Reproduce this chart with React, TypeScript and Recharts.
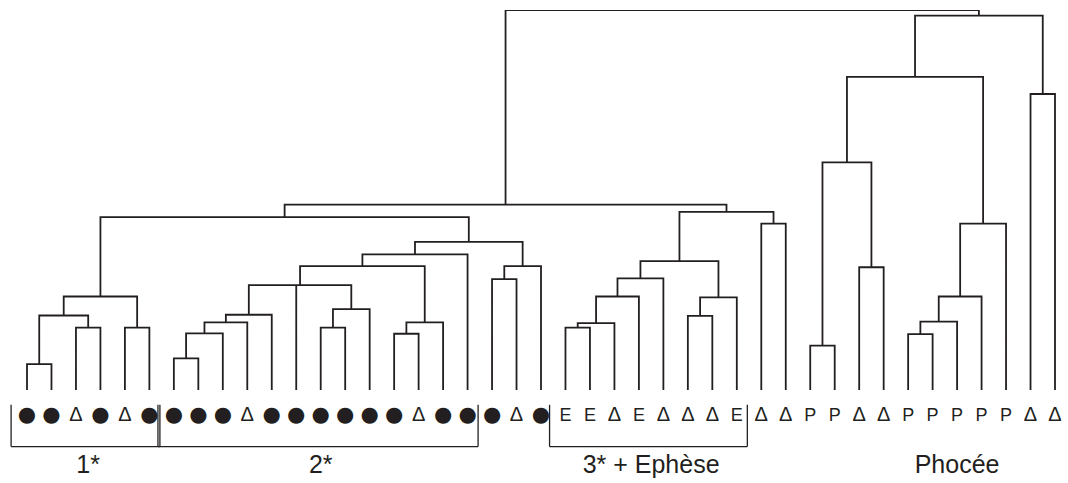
import React from 'react';
import { LineChart, Line, XAxis, YAxis, ReferenceLine, ReferenceDot } from 'recharts';

// Leaf symbols, left to right (43 specimens)
const leafSymbols: string[] = [
  '●', '●', 'Δ', '●', 'Δ', '●',
  '●', '●', '●', 'Δ', '●', '●', '●', '●', '●', '●', 'Δ', '●', '●',
  '●', 'Δ', '●',
  'E', 'E', 'Δ', 'E', 'Δ', 'Δ', 'Δ', 'E',
  'Δ', 'Δ',
  'P', 'P', 'Δ', 'Δ', 'P', 'P', 'P', 'P', 'P', 'Δ', 'Δ',
];

// Cluster merges: [name, children (leaf index or merge name), linkage distance]
const merges: [string, (string | number)[], number][] = [
  ['A1', [0, 1], 6.8],
  ['A2', [2, 3], 16.4],
  ['A3', ['A1', 'A2'], 19.6],
  ['A4', [4, 5], 16.4],
  ['A5', ['A3', 'A4'], 24.6],
  ['B1', [6, 7], 8.3],
  ['B2', ['B1', 8], 14.9],
  ['B3', ['B2', 9], 17.8],
  ['B4', ['B3', 10], 19.8],
  ['K1', [12, 13], 16.4],
  ['K2', ['K1', 14], 21.3],
  ['B5', ['B4', 11, 'K2'], 27.6],
  ['L1', [15, 16], 14.8],
  ['L2', ['L1', 17], 17.8],
  ['B6', ['B5', 'L2'], 32.6],
  ['B7', ['B6', 18], 35.7],
  ['M1', [19, 20], 29.2],
  ['M2', ['M1', 21], 32.6],
  ['C', ['B7', 'M2'], 39.0],
  ['D', ['A5', 'C'], 45.5],
  ['N1', [22, 23], 16.4],
  ['N2', ['N1', 24], 17.6],
  ['N3', ['N2', 25], 24.6],
  ['N4', ['N3', 26], 29.4],
  ['O1', [27, 28], 19.5],
  ['O2', ['O1', 29], 24.4],
  ['G', ['N4', 'O2'], 33.9],
  ['P1', [30, 31], 43.8],
  ['F', ['G', 'P1'], 46.9],
  ['E', ['D', 'F'], 48.8],
  ['Q1', [32, 33], 11.7],
  ['Q2', [34, 35], 32.3],
  ['H', ['Q1', 'Q2'], 59.9],
  ['R1', [36, 37], 14.7],
  ['R2', ['R1', 38], 18.0],
  ['R3', ['R2', 39], 24.6],
  ['R4', ['R3', 40], 43.8],
  ['I', ['H', 'R4'], 82.4],
  ['S1', [41, 42], 77.9],
  ['J', ['I', 'S1'], 98.5],
  ['Root', ['E', 'J'], 100],
];

// Groups shown below the leaves
const groupNames: string[] = ['1*', '2*', '3* + Ephèse', 'Phocée'];
const groupFirst: number[] = [0, 6, 22, 34];
const groupLast: number[] = [5, 18, 29, 42];
const groupBracket: boolean[] = [true, true, true, false];

const leafTicks = leafSymbols.map((_, i) => i);

type Pt = { x: number; y: number | null };

function buildSegments(): Pt[] {
  const info = new Map<string, { x: number; h: number }>();
  const get = (c: string | number) =>
    typeof c === 'number' ? { x: c, h: 0 } : (info.get(c) as { x: number; h: number });
  const pts: Pt[] = [];
  for (const [name, kids, h] of merges) {
    const cs = kids.map(get).sort((a, b) => a.x - b.x);
    const l = cs[0];
    const r = cs[cs.length - 1];
    pts.push({ x: l.x, y: l.h }, { x: l.x, y: h }, { x: r.x, y: h }, { x: r.x, y: r.h }, { x: r.x, y: null });
    for (const m of cs.slice(1, -1)) {
      pts.push({ x: m.x, y: m.h }, { x: m.x, y: h }, { x: m.x, y: null });
    }
    info.set(name, { x: (l.x + r.x) / 2, h });
  }
  return pts;
}

const segments = buildSegments();

const INK = '#231f20';
const FONT = '"Liberation Sans", Arial, Helvetica, sans-serif';

const LeafTick = (props: any) => {
  const { x, y, payload } = props;
  const s = leafSymbols[payload.value];
  if (s === '●') {
    return (
      <text x={x} y={y + 31} textAnchor="middle" fontSize={21} fontFamily='"DejaVu Sans", sans-serif' fill={INK}>
        ●
      </text>
    );
  }
  if (s === 'Δ') {
    return (
      <text x={x} y={y + 31} textAnchor="middle" fontSize={20} fontFamily={FONT} fill={INK}>
        Δ
      </text>
    );
  }
  return (
    <text x={x} y={y + 31} textAnchor="middle" fontSize={18} fontFamily={FONT} fill={INK}>
      {s}
    </text>
  );
};

const BR_TOP = -3.9;
const BR_BOTTOM = -14.9;
const LABEL_Y = -19.4;

export default function App() {
  const brackets: React.ReactNode[] = [];
  groupNames.forEach((g, i) => {
    if (!groupBracket[i]) return;
    const a = groupFirst[i] - 0.65;
    const b = groupLast[i] + 0.43;
    const segs: [number, number, number, number][] = [
      [a, BR_TOP, a, BR_BOTTOM],
      [a, BR_BOTTOM, b, BR_BOTTOM],
      [b, BR_BOTTOM, b, BR_TOP],
    ];
    segs.forEach((s, k) =>
      brackets.push(
        <ReferenceLine
          key={`br-${i}-${k}`}
          segment={[{ x: s[0], y: s[1] }, { x: s[2], y: s[3] }]}
          stroke={INK}
          strokeWidth={1.3}
          ifOverflow="visible"
        />
      )
    );
  });

  return (
    <div style={{ position: 'absolute', left: 0, top: 0, width: 1068, height: 483, background: '#fff' }}>
      <LineChart width={1068} height={483} data={segments} margin={{ top: 10, right: 13, bottom: 0, left: 27 }}>
        <XAxis
          dataKey="x"
          type="number"
          domain={[0, 42]}
          ticks={leafTicks}
          interval={0}
          height={93}
          axisLine={false}
          tickLine={false}
          tickSize={0}
          tickMargin={0}
          tick={<LeafTick />}
        />
        <YAxis type="number" domain={[0, 100]} hide width={0} allowDataOverflow />
        <Line
          dataKey="y"
          stroke={INK}
          strokeWidth={1.8}
          dot={false}
          activeDot={false}
          connectNulls={false}
          isAnimationActive={false}
          type="linear"
        />
        {brackets}
        {groupNames.map((g, i) => (
          <ReferenceDot
            key={`gl-${i}`}
            x={(groupFirst[i] + groupLast[i]) / 2}
            y={LABEL_Y}
            r={0}
            fill="none"
            stroke="none"
            ifOverflow="visible"
            label={{ value: g, position: 'center', fontSize: 25, fill: INK, fontFamily: FONT }}
          />
        ))}
      </LineChart>
    </div>
  );
}
